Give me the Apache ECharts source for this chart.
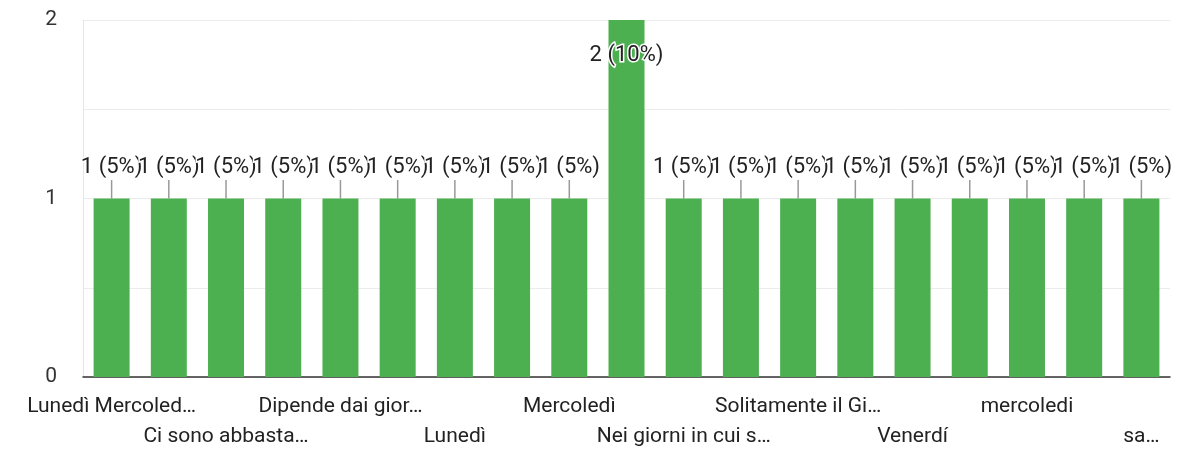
<!DOCTYPE html>
<html>
<head>
<meta charset="utf-8">
<script src="https://cdn.jsdelivr.net/npm/echarts@6/dist/echarts.min.js"></script>
<style>
  html, body { margin: 0; padding: 0; background: #fff; }
  #chart { width: 1177px; height: 451px; }
</style>
</head>
<body>
<div id="chart"></div>
<script>
const categories = [
    'Lunedì Mercoled…', 'Martedì', 'Ci sono abbasta…', 'Giovedì', 'Dipende dai gior…',
    'Sabato', 'Lunedì', 'Martedì e Giovedì', 'Mercoledì', 'Venerdì',
    'Nei giorni in cui s…', 'Domenica', 'Solitamente il Gi…', 'Giovedì pomeriggio', 'Venerdí',
    'Lunedì sera', 'mercoledi', 'Martedi', 'sa…'
];
const counts = [1, 1, 1, 1, 1, 1, 1, 1, 1, 2, 1, 1, 1, 1, 1, 1, 1, 1, 1];
const yTicks = [0, 1, 2];

const total = counts.reduce((a, b) => a + b, 0);
const maxCount = Math.max(...counts);
const font = 'Roboto, Arial, sans-serif';

const chart = echarts.init(document.getElementById('chart'));
chart.setOption({
    animation: false,
    grid: { left: 83, right: 7, top: 20, bottom: 74, outerBoundsMode: 'none' },
    xAxis: {
        type: 'category',
        data: categories,
        axisLine: { lineStyle: { color: '#333', width: 1.5 } },
        axisTick: { show: false },
        axisLabel: {
            interval: 0,
            margin: 15,
            color: '#222',
            fontSize: 21,
            fontFamily: font,
            lineHeight: 30,
            verticalAlign: 'top',
            formatter: (value, index) => {
                if (index % 2 === 1) return '';
                return index % 4 === 0 ? value : '\n' + value;
            }
        }
    },
    yAxis: {
        type: 'value',
        min: 0,
        max: 2,
        interval: 0.5,
        axisLine: { show: true, lineStyle: { color: '#e6e6e6' } },
        axisTick: { show: false },
        splitLine: { lineStyle: { color: '#ececec' } },
        axisLabel: {
            margin: 26,
            color: '#333',
            fontSize: 21,
            fontFamily: font,
            formatter: v => (yTicks.includes(v) ? String(v) : '')
        }
    },
    series: [{
        type: 'bar',
        data: counts.map(v => v === maxCount
            ? { value: v, label: { position: 'insideTop', distance: 0 } }
            : v),
        barWidth: 36,
        itemStyle: { color: '#4caf50' },
        label: {
            show: true,
            position: 'top',
            distance: 0,
            color: '#222',
            fontSize: 22,
            fontFamily: font,
            textBorderColor: '#fff',
            textBorderWidth: 3,
            formatter: p => p.value + ' (' + Math.round(p.value / total * 100) + '%)'
        },
        labelLayout: params => (counts[params.dataIndex] === maxCount ? { dy: 24 } : { dy: -20 }),
        labelLine: { show: true, lineStyle: { color: '#999', width: 1.5 } }
    }]
});
</script>
</body>
</html>
